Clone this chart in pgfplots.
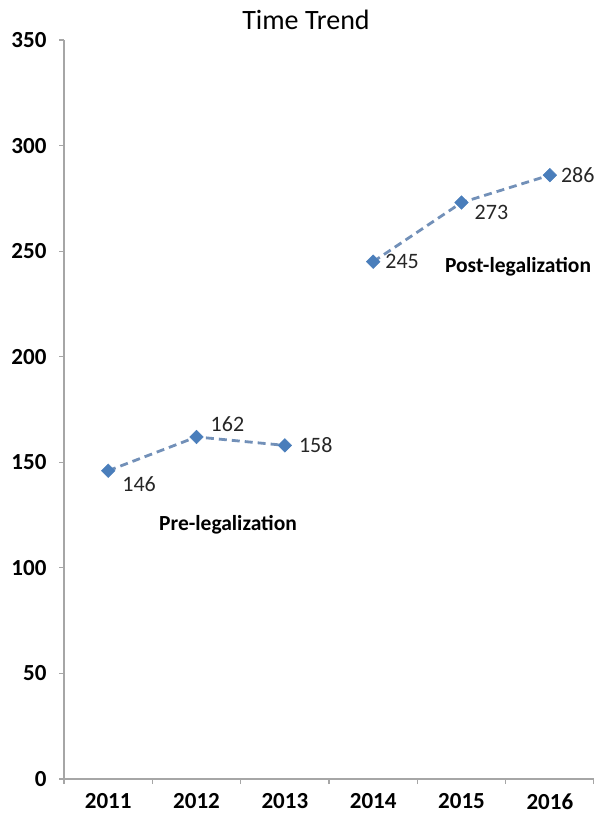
\documentclass[border=0pt]{standalone}
\usepackage{pgfplots}
\pgfplotsset{compat=1.18}
\usepackage{fontspec}
\setmainfont{Carlito}
\definecolor{mk}{HTML}{4A7EBB}
\definecolor{ln}{HTML}{7290B8}
\definecolor{ax}{HTML}{A6A6A6}
\begin{document}
\begin{tikzpicture}[x=1pt,y=1pt]
\useasboundingbox (0,0) rectangle (594,822);
\node[font=\fontsize{28}{33}\selectfont] at (306,802) {Time Trend};
\begin{axis}[
  at={(64pt,43pt)}, anchor=south west,
  scale only axis, width=530pt, height=739pt,
  xmin=-0.5, xmax=5.5, ymin=0, ymax=350,
  axis lines=left, axis line style={draw=ax, line width=1.2pt, -},
  ytick={0,50,...,350},
  xtick={-0.5,0.5,...,5.5}, xticklabels={},
  extra x ticks={0,1,2,3,4,5},
  extra x tick labels={2011,2012,2013,2014,2015,2016},
  extra x tick style={major tick length=0pt},
  tick align=outside, major tick length=5pt,
  tick style={draw=ax, line width=1.2pt},
  /pgf/number format/assume math mode=true,
  ticklabel style={font=\fontsize{23}{27}\selectfont\bfseries},
  yticklabel style={xshift=-9pt},
  xticklabel style={yshift=-11pt},
  clip=false,
]
\addplot[color=ln, line width=2.8pt, dash pattern=on 8pt off 5pt,
  mark=square*, mark size=4.8pt,
  mark options={solid, fill=mk, draw=mk, rotate=45, line width=0.5pt}]
  coordinates {(0,146) (1,162) (2,158)};
\addplot[color=ln, line width=2.8pt, dash pattern=on 8pt off 5pt,
  mark=square*, mark size=4.8pt,
  mark options={solid, fill=mk, draw=mk, rotate=45, line width=0.5pt}]
  coordinates {(3,245) (4,273) (5,286)};
\begin{scope}[every node/.style={font=\fontsize{22}{26}\selectfont, text=black!85}]
\node[anchor=north west, inner sep=0pt] at ([xshift=14pt,yshift=-6pt]axis cs:0,146) {146};
\node[anchor=south west, inner sep=0pt] at ([xshift=14pt,yshift=5pt]axis cs:1,162) {162};
\node[anchor=west, inner sep=0pt] at ([xshift=14pt]axis cs:2,158) {158};
\node[anchor=west, inner sep=0pt] at ([xshift=12pt]axis cs:3,245) {245};
\node[anchor=north west, inner sep=0pt] at ([xshift=13pt,yshift=-2pt]axis cs:4,273) {273};
\node[anchor=west, inner sep=0pt] at ([xshift=11pt]axis cs:5,286) {286};
\end{scope}
\node[font=\fontsize{21.5}{26}\selectfont\bfseries] at (axis cs:1.357,120.3) {Pre-legalization};
\node[font=\fontsize{21.5}{26}\selectfont\bfseries] at (axis cs:4.64,242.5) {Post-legalization};
\end{axis}
\end{tikzpicture}
\end{document}
